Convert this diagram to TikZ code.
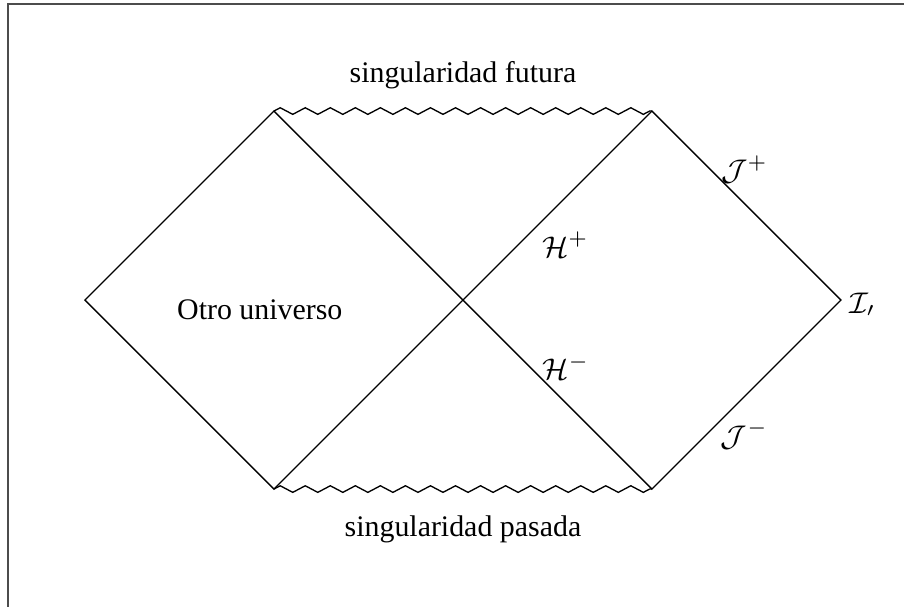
\documentclass[tikz,border=0pt]{standalone}
\usepackage{amsmath,amssymb}
\usepackage{fontspec}
\setmainfont{Liberation Serif}
\usepackage{xcolor}
\usepackage{tikz}
\usetikzlibrary{decorations.pathmorphing, positioning, calc}

\tikzset{
  singular/.style={decorate, decoration={zigzag, segment length=0.265cm, amplitude=0.035cm}},
  rotulo/.style={font=\fontsize{9}{11}\selectfont, inner sep=0pt}
}

\begin{document}
\begin{tikzpicture}
  \useasboundingbox (-4.899,-3.238) rectangle (4.667,3.175);
  \draw[black!70, line width=0.6pt] (-4.815,-3.6) -- (-4.815,3.132) -- (5.0,3.132);
  % vertices del diagrama
  \coordinate (izq)    at (-4,0);
  \coordinate (arrizq) at (-2,2);
  \coordinate (arrder) at (2,2);
  \coordinate (der)    at (4,0);
  \coordinate (abader) at (2,-2);
  \coordinate (abaizq) at (-2,-2);
  \draw (izq) -- (arrizq) -- (abader) -- (der) -- (arrder) -- (abaizq) -- cycle;
  \draw[singular] (arrizq) -- (arrder);
  \draw[singular] (abaizq) -- (abader);
  \node[rotulo] (futura) at (0,2.38)   {singularidad futura};
  \node[rotulo] (pasada) at (0,-2.43)  {singularidad pasada};
  \node[rotulo] (otro)   at (-2.15,-0.1) {Otro universo};
  \node[rotulo] (jmas)   at (2.98,1.38)  {$\mathcal{J}^+$};
  \node[rotulo] (hmas)   at (1.085,0.59) {$\mathcal{H}^+$};
  \node[rotulo] (hmenos) at (1.09,-0.71) {$\mathcal{H}^-$};
  \node[rotulo] (jmenos) at (2.98,-1.43) {$\mathcal{J}^-$};
  \node[rotulo] (inf)    at (4.23,-0.05) {$\mathcal{I}_\prime$};
\end{tikzpicture}
\end{document}
